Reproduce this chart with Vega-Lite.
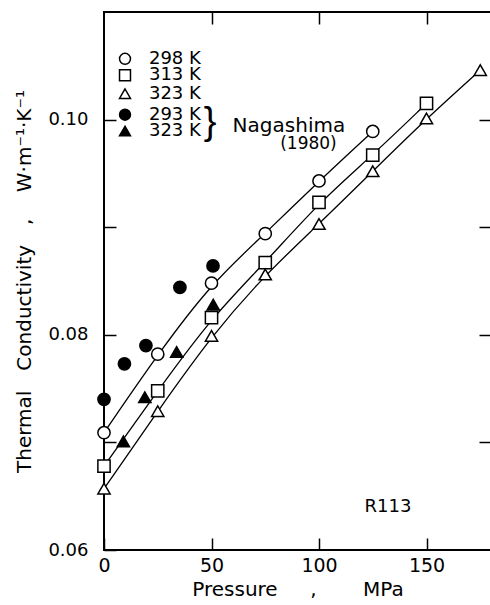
{
  "$schema": "https://vega.github.io/schema/vega-lite/v6.json",
  "width": 387,
  "height": 538,
  "autosize": "none",
  "padding": {"left": 104, "top": 12, "right": 0, "bottom": 55},
  "background": "white",
  "config": {
    "font": "DejaVu Sans",
    "view": {"stroke": "black", "strokeWidth": 2},
    "axis": {
      "grid": false,
      "domain": false,
      "labelFlush": false,
      "tickColor": "black",
      "tickWidth": 1.5,
      "tickSize": 12,
      "offset": -12,
      "labelColor": "black",
      "titleColor": "black",
      "labelFont": "DejaVu Sans",
      "titleFont": "DejaVu Sans",
      "titleFontWeight": "normal"
    }
  },
  "datasets": {
    "obs": [
      {"series": "298 K", "pressure": 0, "k": 0.0709},
      {"series": "298 K", "pressure": 25, "k": 0.0782},
      {"series": "298 K", "pressure": 50, "k": 0.0848},
      {"series": "298 K", "pressure": 75, "k": 0.0894},
      {"series": "298 K", "pressure": 100, "k": 0.0943},
      {"series": "298 K", "pressure": 125, "k": 0.0989},
      {"series": "313 K", "pressure": 0, "k": 0.0678},
      {"series": "313 K", "pressure": 25, "k": 0.0748},
      {"series": "313 K", "pressure": 50, "k": 0.0816},
      {"series": "313 K", "pressure": 75, "k": 0.0867},
      {"series": "313 K", "pressure": 100, "k": 0.0923},
      {"series": "313 K", "pressure": 125, "k": 0.0967},
      {"series": "313 K", "pressure": 150, "k": 0.1015},
      {"series": "323 K", "pressure": 0, "k": 0.0657},
      {"series": "323 K", "pressure": 25, "k": 0.0729},
      {"series": "323 K", "pressure": 50, "k": 0.0799},
      {"series": "323 K", "pressure": 75, "k": 0.0856},
      {"series": "323 K", "pressure": 100, "k": 0.0903},
      {"series": "323 K", "pressure": 125, "k": 0.0952},
      {"series": "323 K", "pressure": 150, "k": 0.1001},
      {"series": "323 K", "pressure": 175, "k": 0.1046},
      {"series": "293 K N", "pressure": 0, "k": 0.0740},
      {"series": "293 K N", "pressure": 9.5, "k": 0.0773},
      {"series": "293 K N", "pressure": 19.5, "k": 0.0790},
      {"series": "293 K N", "pressure": 35.3, "k": 0.0844},
      {"series": "293 K N", "pressure": 50.7, "k": 0.0864},
      {"series": "323 K N", "pressure": 9, "k": 0.0701},
      {"series": "323 K N", "pressure": 19, "k": 0.0742},
      {"series": "323 K N", "pressure": 33.8, "k": 0.0784},
      {"series": "323 K N", "pressure": 50.8, "k": 0.0828}
    ],
    "key": [
      {"series": "298 K", "label": "298 K", "pressure": 9.77, "labelAt": 20.9, "k": 0.10565},
      {"series": "313 K", "label": "313 K", "pressure": 9.77, "labelAt": 20.9, "k": 0.10412},
      {"series": "323 K", "label": "323 K", "pressure": 9.77, "labelAt": 20.9, "k": 0.10241},
      {"series": "293 K N", "label": "293 K", "pressure": 9.77, "labelAt": 20.9, "k": 0.10046},
      {"series": "323 K N", "label": "323 K", "pressure": 9.77, "labelAt": 20.9, "k": 0.09894}
    ],
    "bignotes": [
      {"pressure": 86, "k": 0.0994, "label": "Nagashima"}
    ],
    "smallnotes": [
      {"pressure": 95.1, "k": 0.0977, "label": "(1980)"}
    ],
    "fluid": [
      {"pressure": 132.1, "k": 0.0640, "label": "R113"}
    ],
    "brace": [
      {"pressure": 49.3, "k": 0.0997, "label": "}"}
    ]
  },
  "layer": [
    {
      "data": {"name": "obs"},
      "transform": [{"filter": {"field": "series", "oneOf": ["298 K", "313 K", "323 K"]}}],
      "mark": {"type": "line", "interpolate": "basis", "color": "black", "strokeWidth": 1.3},
      "encoding": {
        "x": {
          "field": "pressure", "type": "quantitative",
          "scale": {"domain": [0, 180], "nice": false, "zero": false},
          "axis": {
            "orient": "bottom", "values": [0, 50, 100, 150],
            "labelFontSize": 19, "labelPadding": 6,
            "title": "Pressure\u2003\u00a0\u00a0,\u2003\u2003\u00a0MPa",
            "titleFontSize": 20, "titlePadding": 4
          }
        },
        "y": {
          "field": "k", "type": "quantitative",
          "scale": {"domain": [0.06, 0.11], "nice": false, "zero": false},
          "axis": {
            "orient": "left", "values": [0.06, 0.07, 0.08, 0.09, 0.10],
            "labelExpr": "indexof(['0.06','0.08','0.10'], format(datum.value, '.2f')) >= 0 ? format(datum.value, '.2f') : ''",
            "labelFontSize": 18, "labelPadding": 16,
            "title": "Thermal\u2003Conductivity\u2003,\u2003\u00a0W·m⁻¹·K⁻¹",
            "titleFontSize": 20, "titlePadding": 13
          }
        },
        "detail": {"field": "series"}
      }
    },
    {
      "data": {"name": "obs"},
      "mark": {"type": "point", "filled": true, "stroke": "black", "strokeWidth": 1.5, "size": 150, "opacity": 1},
      "encoding": {
        "x": {
          "field": "pressure", "type": "quantitative",
          "axis": {"orient": "top", "values": [50, 100, 150], "labels": false, "title": null}
        },
        "y": {
          "field": "k", "type": "quantitative",
          "axis": {"orient": "right", "values": [0.07, 0.08, 0.09, 0.10], "labels": false, "title": null}
        },
        "shape": {
          "field": "series", "type": "nominal",
          "scale": {
            "domain": ["298 K", "313 K", "323 K", "293 K N", "323 K N"],
            "range": ["circle", "square", "triangle-up", "circle", "triangle-up"]
          },
          "legend": null
        },
        "fill": {
          "field": "series", "type": "nominal",
          "scale": {
            "domain": ["298 K", "313 K", "323 K", "293 K N", "323 K N"],
            "range": ["white", "white", "white", "black", "black"]
          },
          "legend": null
        }
      }
    },
    {
      "data": {"name": "key"},
      "mark": {"type": "point", "filled": true, "stroke": "black", "strokeWidth": 1.5, "size": 120, "opacity": 1},
      "encoding": {
        "x": {"field": "pressure", "type": "quantitative", "axis": null},
        "y": {"field": "k", "type": "quantitative", "axis": null},
        "shape": {"field": "series", "type": "nominal", "legend": null},
        "fill": {"field": "series", "type": "nominal", "legend": null}
      }
    },
    {
      "data": {"name": "key"},
      "mark": {"type": "text", "fontSize": 18, "font": "DejaVu Sans", "color": "black", "align": "left", "baseline": "middle"},
      "encoding": {
        "x": {"field": "labelAt", "type": "quantitative", "axis": null},
        "y": {"field": "k", "type": "quantitative", "axis": null},
        "text": {"field": "label"}
      }
    },
    {
      "data": {"name": "bignotes"},
      "mark": {"type": "text", "fontSize": 20, "font": "DejaVu Sans", "color": "black"},
      "encoding": {
        "x": {"field": "pressure", "type": "quantitative", "axis": null},
        "y": {"field": "k", "type": "quantitative", "axis": null},
        "text": {"field": "label"}
      }
    },
    {
      "data": {"name": "smallnotes"},
      "mark": {"type": "text", "fontSize": 17, "font": "DejaVu Sans", "color": "black"},
      "encoding": {
        "x": {"field": "pressure", "type": "quantitative", "axis": null},
        "y": {"field": "k", "type": "quantitative", "axis": null},
        "text": {"field": "label"}
      }
    },
    {
      "data": {"name": "fluid"},
      "mark": {"type": "text", "fontSize": 18, "font": "DejaVu Sans", "color": "black"},
      "encoding": {
        "x": {"field": "pressure", "type": "quantitative", "axis": null},
        "y": {"field": "k", "type": "quantitative", "axis": null},
        "text": {"field": "label"}
      }
    },
    {
      "data": {"name": "brace"},
      "mark": {"type": "text", "fontSize": 38, "font": "Liberation Sans", "fontWeight": 300, "color": "black"},
      "encoding": {
        "x": {"field": "pressure", "type": "quantitative", "axis": null},
        "y": {"field": "k", "type": "quantitative", "axis": null},
        "text": {"field": "label"}
      }
    }
  ]
}
